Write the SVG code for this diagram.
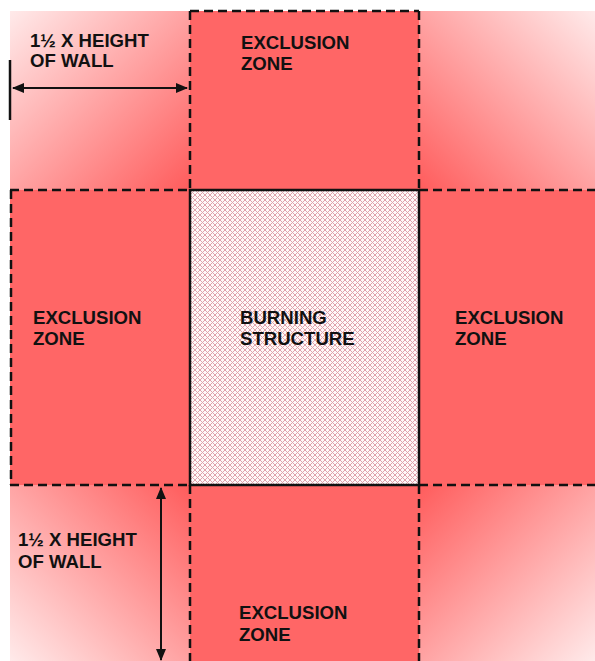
<svg xmlns="http://www.w3.org/2000/svg" width="595" height="661" viewBox="0 0 595 661">
<defs>
<style>
.zone{fill:#FF6666}
.dash{stroke:#111;stroke-width:2.5;stroke-dasharray:9,5;fill:none}
.lbl{font-family:"Liberation Sans",Arial,sans-serif;font-weight:bold;font-size:18.6px;fill:#111}
.arr{stroke:#111;stroke-width:2;fill:none}
</style>
<linearGradient id="gTL" x1="10" y1="11" x2="190" y2="190" gradientUnits="userSpaceOnUse">
<stop offset="0" stop-color="#FFEAEA"/><stop offset="1" stop-color="#FF5C5C"/>
</linearGradient>
<linearGradient id="gTR" x1="595" y1="11" x2="419" y2="190" gradientUnits="userSpaceOnUse">
<stop offset="0" stop-color="#FFEAEA"/><stop offset="1" stop-color="#FF5C5C"/>
</linearGradient>
<linearGradient id="gBL" x1="10" y1="661" x2="190" y2="485" gradientUnits="userSpaceOnUse">
<stop offset="0" stop-color="#FFEAEA"/><stop offset="1" stop-color="#FF5C5C"/>
</linearGradient>
<linearGradient id="gBR" x1="595" y1="661" x2="419" y2="485" gradientUnits="userSpaceOnUse">
<stop offset="0" stop-color="#FFEAEA"/><stop offset="1" stop-color="#FF5C5C"/>
</linearGradient>
<pattern id="hatch" patternUnits="userSpaceOnUse" width="5" height="5">
<rect width="5" height="5" fill="#FFF8F8"/>
<path d="M0,0 L5,5 M5,0 L0,5" stroke="#E0A2AC" stroke-width="1"/>
</pattern>
<marker id="ah" viewBox="0 0 12 10" refX="11" refY="5" markerWidth="12" markerHeight="10" markerUnits="userSpaceOnUse" orient="auto-start-reverse">
<path d="M0,0 L12,5 L0,10 Z" fill="#111"/>
</marker>
</defs>
<rect width="595" height="661" fill="#fff"/>

<g id="corner-tl"><rect x="10" y="11" width="180" height="179" fill="url(#gTL)"/></g>
<g id="corner-tr"><rect x="419" y="11" width="176" height="179" fill="url(#gTR)"/></g>
<g id="corner-bl"><rect x="10" y="485" width="180" height="176" fill="url(#gBL)"/></g>
<g id="corner-br"><rect x="419" y="485" width="176" height="176" fill="url(#gBR)"/></g>

<g id="zone-top">
<rect class="zone" x="190" y="11" width="229" height="179"/>
<text class="lbl" x="241" y="49">EXCLUSION</text>
<text class="lbl" x="241" y="70">ZONE</text>
</g>
<g id="zone-left">
<rect class="zone" x="10" y="190" width="180" height="295"/>
<text class="lbl" x="33" y="324">EXCLUSION</text>
<text class="lbl" x="33" y="345">ZONE</text>
</g>
<g id="zone-right">
<rect class="zone" x="419" y="190" width="176" height="295"/>
<text class="lbl" x="455" y="324">EXCLUSION</text>
<text class="lbl" x="455" y="345">ZONE</text>
</g>
<g id="zone-bottom">
<rect class="zone" x="190" y="485" width="229" height="176"/>
<text class="lbl" x="239" y="619">EXCLUSION</text>
<text class="lbl" x="239" y="641">ZONE</text>
</g>

<g id="dashes">
<path class="dash" d="M190,11 H419 M190,11 V190 M419,11 V190 M10,190 H190 M419,190 H595 M11,190 V485 M10,485 H190 M419,485 H595 M190,485 V661 M419,485 V661"/>
</g>

<g id="burning-structure">
<rect x="190" y="190" width="229" height="295" fill="url(#hatch)" stroke="#111" stroke-width="2.5"/>
<text class="lbl" x="240" y="324">BURNING</text>
<text class="lbl" x="240" y="345">STRUCTURE</text>
</g>

<g id="label-top">
<text class="lbl" x="30" y="47">1½ X HEIGHT</text>
<text class="lbl" x="30" y="67">OF WALL</text>
</g>
<g id="label-bottom">
<text class="lbl" x="18" y="546">1½ X HEIGHT</text>
<text class="lbl" x="18" y="568">OF WALL</text>
</g>

<g id="connectors">
<line x1="10" y1="60" x2="10" y2="120" stroke="#111" stroke-width="2.5"/>
<line class="arr" x1="13" y1="88" x2="187" y2="88" marker-start="url(#ah)" marker-end="url(#ah)"/>
<line class="arr" x1="161" y1="488" x2="161" y2="660" marker-start="url(#ah)" marker-end="url(#ah)"/>
</g>
</svg>
